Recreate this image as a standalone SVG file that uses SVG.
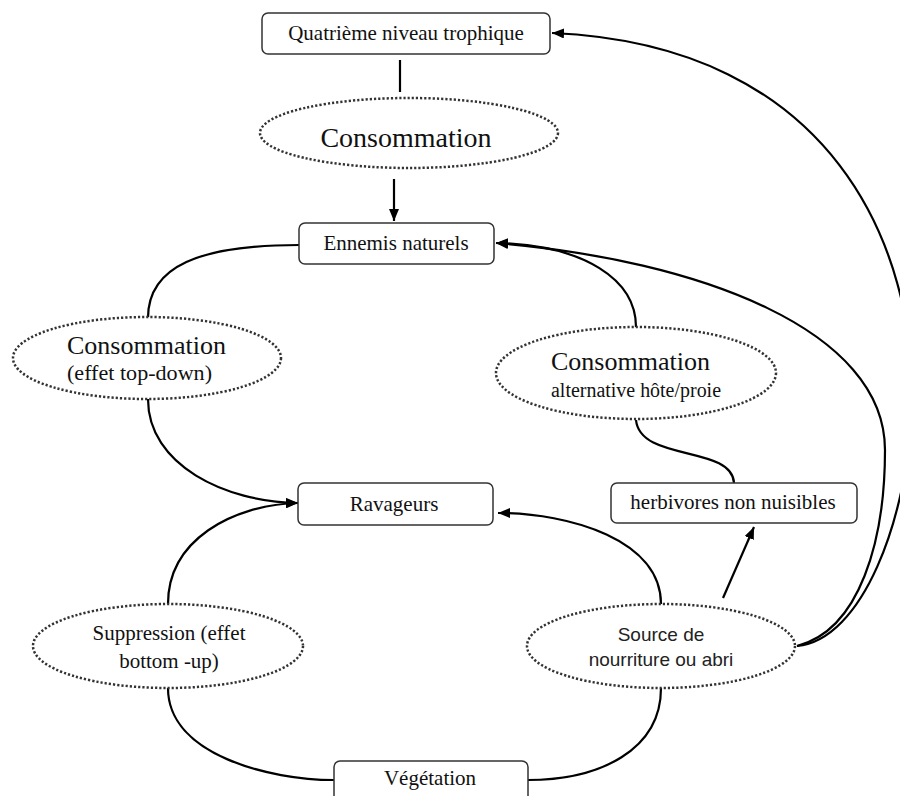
<svg xmlns="http://www.w3.org/2000/svg" width="900" height="796" viewBox="0 0 900 796">
<defs>
<style>
.box{fill:#fff;stroke:#333;stroke-width:1.5}
.ell{fill:#fff;stroke:#333;stroke-width:2.5;stroke-dasharray:2.2 2}
.t{font-family:"Liberation Serif","Times New Roman",serif;fill:#111;text-anchor:middle}
.s{font-family:"Liberation Sans",Arial,sans-serif;fill:#222;text-anchor:middle}
.c{fill:none;stroke:#000;stroke-width:2.2}
</style>
<marker id="ah" markerUnits="userSpaceOnUse" markerWidth="12" markerHeight="10" refX="12" refY="5" orient="auto">
<path d="M0,0 L12,5 L0,10 z" fill="#000"/>
</marker>
</defs>
<rect width="900" height="796" fill="#fff"/>
<g id="connectors">
<line class="c" x1="400" y1="60" x2="400" y2="92"/>
<line class="c" x1="394" y1="179" x2="394" y2="221" marker-end="url(#ah)"/>
<path class="c" d="M299,245 C200,245 148,266 148,318"/>
<path class="c" d="M148,399 C148,465 225,502 298,503" marker-end="url(#ah)"/>
<path class="c" d="M168,604 C168,540 232,505 298,503" marker-end="url(#ah)"/>
<path class="c" d="M168,688 C168,755 270,780 334,780"/>
<path class="c" d="M528,780 C600,780 661,750 661,688"/>
<path class="c" d="M661,604 C661,540 570,513 498,513" marker-end="url(#ah)"/>
<line class="c" x1="723" y1="598" x2="754" y2="527" marker-end="url(#ah)"/>
<path class="c" d="M734,483 C732,445 640,462 636,420"/>
<path class="c" d="M636,327 C636,280 585,245 496,243" marker-end="url(#ah)"/>
<path class="c" d="M797,646 C860,630 885,540 885,450 C885,330 700,260 496,243" marker-end="url(#ah)"/>
<path class="c" d="M797,646 C862,640 908,520 912,405 C916,250 835,45 552,33" marker-end="url(#ah)"/>
</g>
<g id="n-quatrieme">
<rect class="box" x="262" y="13" width="288" height="41" rx="6"/>
<text class="t" x="406" y="40" font-size="21">Quatrième niveau trophique</text>
</g>
<g id="n-consommation-top">
<ellipse class="ell" cx="409" cy="133" rx="149" ry="35"/>
<text class="t" x="406" y="147" font-size="28">Consommation</text>
</g>
<g id="n-ennemis">
<rect class="box" x="299" y="223" width="195" height="41" rx="6"/>
<text class="t" x="396" y="250" font-size="21">Ennemis naturels</text>
</g>
<g id="n-consommation-left">
<ellipse class="ell" cx="147" cy="358" rx="134" ry="41"/>
<text class="t" x="67" y="354" font-size="26" style="text-anchor:start">Consommation</text>
<text class="t" x="67" y="380" font-size="21" style="text-anchor:start" textLength="145" lengthAdjust="spacingAndGlyphs">(effet top-down)</text>
</g>
<g id="n-consommation-right">
<ellipse class="ell" cx="636" cy="373" rx="140" ry="46"/>
<text class="t" x="551" y="370" font-size="26" style="text-anchor:start">Consommation</text>
<text class="t" x="551" y="397" font-size="20" style="text-anchor:start" textLength="170" lengthAdjust="spacingAndGlyphs">alternative hôte/proie</text>
</g>
<g id="n-ravageurs">
<rect class="box" x="298" y="483" width="195" height="42" rx="6"/>
<text class="t" x="394" y="511" font-size="21">Ravageurs</text>
</g>
<g id="n-herbivores">
<rect class="box" x="611" y="483" width="246" height="40" rx="6"/>
<text class="t" x="733" y="509" font-size="21">herbivores non nuisibles</text>
</g>
<g id="n-suppression">
<ellipse class="ell" cx="168" cy="646" rx="135" ry="42"/>
<text class="t" x="169" y="640" font-size="21">Suppression (effet</text>
<text class="t" x="169" y="668" font-size="21">bottom -up)</text>
</g>
<g id="n-source">
<ellipse class="ell" cx="661" cy="646" rx="134" ry="42"/>
<text class="s" x="661" y="641" font-size="19">Source de</text>
<text class="s" x="661" y="666" font-size="19">nourriture ou abri</text>
</g>
<g id="n-vegetation">
<rect class="box" x="334" y="761" width="194" height="45" rx="6"/>
<text class="t" x="430" y="785" font-size="21">Végétation</text>
</g>
</svg>
